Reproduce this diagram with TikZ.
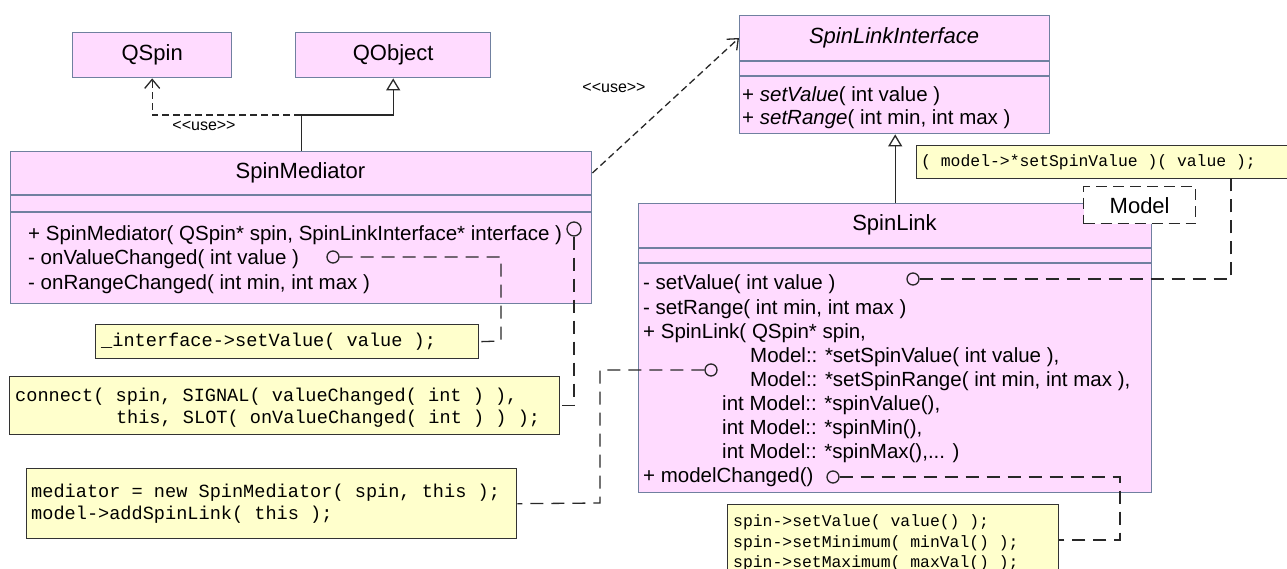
\documentclass[tikz,border=0pt]{standalone}
\usepackage{fontspec}
\setmainfont{Liberation Sans}
\newfontfamily\codefont{Liberation Mono}
\usetikzlibrary{arrows.meta}
\definecolor{clsfill}{RGB}{255,219,255}
\definecolor{clsdraw}{RGB}{112,128,160}
\definecolor{notefill}{RGB}{255,255,204}
\definecolor{notedraw}{RGB}{51,51,51}
\definecolor{linec}{RGB}{40,40,40}
\newcommand{\uselbl}{\textless\kern0pt\textless use\textgreater\kern0pt\textgreater}
\begin{document}
\begin{tikzpicture}[x=1pt,y=-1pt,
 cls/.style={draw=clsdraw, fill=clsfill, line width=1.4pt, inner sep=0pt, anchor=north west},
 sepline/.style={draw=clsdraw, line width=1.4pt},
 titlefont/.style={font=\fontsize{22}{26}\selectfont},
 title/.style={titlefont, inner sep=0pt, anchor=center},
 mem/.style={font=\fontsize{20.5}{24}\selectfont, inner sep=0pt, anchor=base west},
 note/.style={draw=notedraw, fill=notefill, line width=1.4pt, inner sep=0pt, anchor=north west},
 codeL/.style={font=\codefont\fontsize{18.6}{22}\selectfont, inner sep=0pt, anchor=base west},
 codeS/.style={font=\codefont\fontsize{16.4}{20}\selectfont, inner sep=0pt, anchor=base west},
 lolli/.style={draw=linec, line width=1.3pt, circle, minimum size=12pt, inner sep=0pt},
 dep/.style={draw=linec, line width=1.3pt, dash pattern=on 7pt off 4pt, -{Straight Barb[length=9pt,width=15pt]}},
 gen/.style={draw=linec, line width=1.3pt, -{Triangle[open,length=12pt,width=14pt]}},
 anc/.style={draw=linec, line width=1.3pt, dash pattern=on 13pt off 8pt},
 lbl/.style={font=\fontsize{16}{18}\selectfont, inner sep=0pt}
]
\useasboundingbox (0,0) rectangle (1287,569);
\clip (0,0) rectangle (1287,569);
\fill[white] (0,0) rectangle (1287,569);

% ---- classes
\node[cls, titlefont, minimum width=159pt, minimum height=45pt] (qspin) at (72,32) {QSpin};
\node[cls, titlefont, minimum width=195pt, minimum height=45pt] (qobject) at (295,32) {QObject};

\node[cls, minimum width=581pt, minimum height=152pt] (med) at (10,151) {};
\node[title] (medt) at (300.5,173) {SpinMediator};
\draw[sepline] (10,195) -- (591,195);
\draw[sepline] (10,212) -- (591,212);
\node[mem] (m1) at (28,241) {+ SpinMediator( QSpin* spin, SpinLinkInterface* interface )};
\node[mem] (m2) at (28,265) {- onValueChanged( int value )};
\node[mem] (m3) at (28,289) {- onRangeChanged( int min, int max )};

\node[cls, minimum width=310pt, minimum height=118pt] (sli) at (739,15) {};
\node[title, font=\fontsize{22}{26}\selectfont\itshape] (slit) at (894,38) {SpinLinkInterface};
\draw[sepline] (739,61) -- (1049,61);
\draw[sepline] (739,76) -- (1049,76);
\node[mem] (i1) at (742,102) {+ \textit{setValue}( int value )};
\node[mem] (i2) at (742,125) {+ \textit{setRange}( int min, int max )};

\node[cls, minimum width=513pt, minimum height=289pt] (sl) at (638,203) {};
\node[title] (slt) at (894.5,225) {SpinLink};
\draw[sepline] (638,248) -- (1151,248);
\draw[sepline] (638,263) -- (1151,263);
\node[mem] (s1) at (643,290) {- setValue( int value )};
\node[mem] (s2) at (643,314) {- setRange( int min, int max )};
\node[mem] (s3) at (643,338) {+ SpinLink( QSpin* spin,};
\node[mem] (s4) at (750,362) {Model:: *setSpinValue( int value ),};
\node[mem] (s5) at (750,386) {Model:: *setSpinRange( int min, int max ),};
\node[mem] (s6) at (722,410) {int Model:: *spinValue(),};
\node[mem] (s7) at (722,434) {int Model:: *spinMin(),};
\node[mem] (s8) at (722,458) {int Model:: *spinMax(),... )};
\node[mem] (s9) at (643,482) {+ modelChanged()};

\node[draw=linec, line width=1.3pt, dash pattern=on 11pt off 6pt, fill=white, titlefont,
      minimum width=112pt, minimum height=37pt, inner sep=0pt, anchor=north west] (model) at (1083,186) {Model};

% ---- notes
\node[note, minimum width=383pt, minimum height=34pt] (n1) at (95,324) {};
\node[codeL] at (101,346) {\_interface->setValue( value );};

\node[note, minimum width=550pt, minimum height=58pt] (n2) at (9,376) {};
\node[codeL] at (15,401) {connect( spin, SIGNAL( valueChanged( int ) ),};
\node[codeL] at (115.8,423) {this, SLOT( onValueChanged( int ) ) );};

\node[note, minimum width=490pt, minimum height=70pt] (n3) at (26,468) {};
\node[codeL] at (31,497) {mediator = new SpinMediator( spin, this );};
\node[codeL] at (31,519) {model->addSpinLink( this );};

\node[note, minimum width=390pt, minimum height=33pt] (n4) at (916,145) {};
\node[codeS] at (921,167) {( model->*setSpinValue )( value );};

\node[note, minimum width=331pt, minimum height=100pt] (n5) at (727,504) {};
\node[codeS] at (733,526) {spin->setValue( value() );};
\node[codeS] at (733,547) {spin->setMinimum( minVal() );};
\node[codeS] at (733,567) {spin->setMaximum( maxVal() );};

% ---- relations
\draw[gen] (med.north) -- ++(0,-36) -| (qobject.south);
\draw[dep] (med.north) ++(0,-36) -| (qspin.south);
\node[lbl] (u1) at (204,126) {\uselbl};
\draw[dep] (med.east |- medt) -- (sli.west |- slit);
\node[lbl] (u2) at (614,88) {\uselbl};
\draw[gen] (sl.north) -- (sl.north |- sli.south);

% ---- lollipop note links
\node[lolli] (c1) at (333,257) {};
\node[lolli, minimum size=14pt] (c2) at (574,229) {};
\node[lolli] (c3) at (711,370) {};
\node[lolli] (c4) at (913,279) {};
\node[lolli] (c5) at (833,477) {};
\coordinate (k1) at (501,341);
\coordinate (k3) at (600,503);
\coordinate (k4) at (1231,178);
\coordinate (k5) at (1120,540);
\draw[anc] (c1.east) -| (k1) -- (n1.east);
\draw[anc] (c2.south) |- (n2.east);
\draw[anc] (c3.west) -| (k3) -- (n3.east);
\draw[anc] (c4.east) -| (k4);
\draw[anc] (c5.east) -| (k5) -- (k5 -| n5.east);
\end{tikzpicture}
\end{document}
